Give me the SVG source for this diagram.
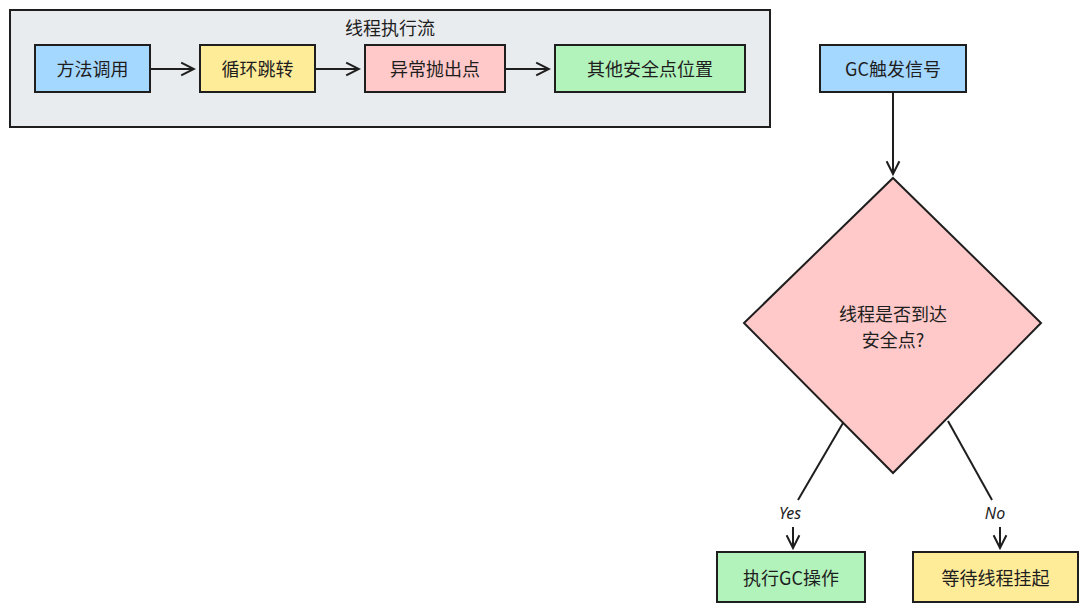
<svg xmlns="http://www.w3.org/2000/svg" width="1088" height="611" viewBox="0 0 1088 611">
<defs>
<style>
.box{stroke:#1e1e1e;stroke-width:2}
.t{font-family:"Noto Sans CJK SC","Noto Sans",sans-serif;font-size:18px;fill:#1e1e1e;text-anchor:middle;dominant-baseline:central}
.lbl{font-family:"Noto Sans","Noto Sans CJK SC",sans-serif;font-size:16px;fill:#1e1e1e;text-anchor:middle;dominant-baseline:central;font-style:italic}
.ln{stroke:#1e1e1e;stroke-width:2;fill:none}
</style>
<marker id="ah" viewBox="0 0 20 20" refX="18" refY="10" markerWidth="16" markerHeight="16" markerUnits="userSpaceOnUse" orient="auto">
<path d="M2 2 L18 10 L2 18" fill="none" stroke="#1e1e1e" stroke-width="2.5"/>
</marker>
</defs>
<rect width="1088" height="611" fill="#ffffff"/>
<g id="container">
<rect class="box" x="10" y="10" width="760" height="117" fill="#e9ecef"/>
<text class="t" x="390" y="27">线程执行流</text>
</g>
<g id="n1"><rect class="box" x="35" y="45" width="115" height="47" fill="#a5d8ff"/><text class="t" x="92.5" y="68">方法调用</text></g>
<g id="n2"><rect class="box" x="200" y="45" width="115" height="47" fill="#ffec99"/><text class="t" x="257.5" y="68">循环跳转</text></g>
<g id="n3"><rect class="box" x="365" y="45" width="140" height="47" fill="#ffc9c9"/><text class="t" x="435" y="68">异常抛出点</text></g>
<g id="n4"><rect class="box" x="555" y="45" width="190" height="47" fill="#b2f2bb"/><text class="t" x="650" y="68">其他安全点位置</text></g>
<g id="gc"><rect class="box" x="820" y="45" width="146" height="47" fill="#a5d8ff"/><text class="t" x="893" y="68">GC触发信号</text></g>
<g id="decision"><path class="box" d="M893 178 L1041 323 L893 473 L744 323 Z" fill="#ffc9c9"/><text class="t" x="893" y="313">线程是否到达</text><text class="t" x="893" y="339">安全点?</text></g>
<g id="yesbox"><rect class="box" x="717" y="552" width="148" height="50" fill="#b2f2bb"/><text class="t" x="791" y="577">执行GC操作</text></g>
<g id="nobox"><rect class="box" x="913" y="552" width="165" height="50" fill="#ffec99"/><text class="t" x="995.5" y="577">等待线程挂起</text></g>
<g id="connectors">
<line class="ln" x1="151" y1="69" x2="194" y2="69" marker-end="url(#ah)"/>
<line class="ln" x1="316" y1="69" x2="359" y2="69" marker-end="url(#ah)"/>
<line class="ln" x1="506" y1="69" x2="549" y2="69" marker-end="url(#ah)"/>
<line class="ln" x1="893" y1="93" x2="893" y2="174" marker-end="url(#ah)"/>
<line class="ln" x1="843" y1="423" x2="798" y2="500"/>
<text class="lbl" x="790" y="513">Yes</text>
<line class="ln" x1="793" y1="527" x2="793" y2="548" marker-end="url(#ah)"/>
<line class="ln" x1="948" y1="421" x2="992" y2="500"/>
<text class="lbl" x="995" y="513">No</text>
<line class="ln" x1="1000" y1="527" x2="1000" y2="548" marker-end="url(#ah)"/>
</g>
</svg>
